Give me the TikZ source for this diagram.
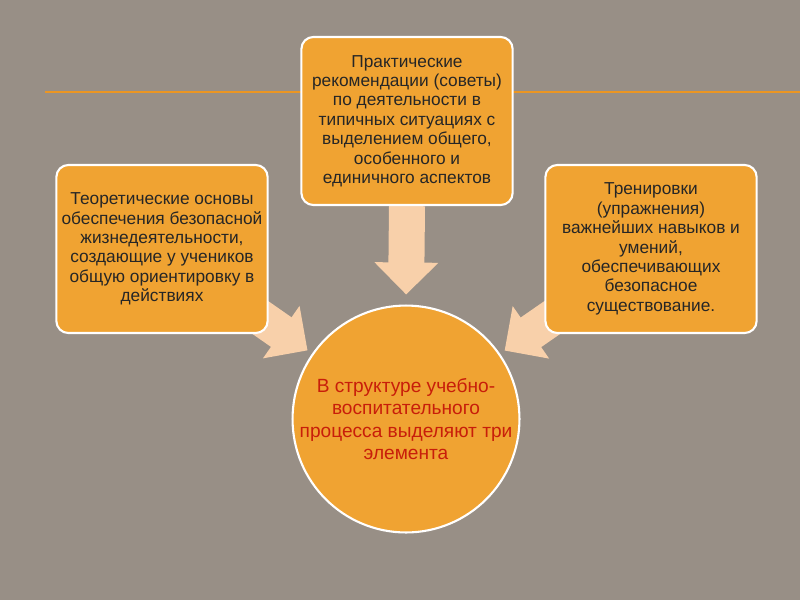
\documentclass[tikz,border=0pt]{standalone}
\usepackage{fontspec}
\setmainfont{Liberation Sans}
\usepackage{tikz}
\usetikzlibrary{arrows.meta,shapes}
\definecolor{slideback}{RGB}{152,143,134}
\definecolor{boxorange}{RGB}{240,163,50}
\definecolor{arrowpeach}{RGB}{248,208,170}
\definecolor{lineorange}{RGB}{235,150,35}
\definecolor{hubtext}{RGB}{200,30,10}
\pgfdeclarelayer{back}
\pgfsetlayers{back,main}

\begin{document}
\begin{tikzpicture}[x=0.025cm,y=-0.025cm,
  elem/.style={draw=white, line width=1.5pt, fill=boxorange, rounded corners=0.3cm,
    inner sep=0pt, minimum width=5.28cm, minimum height=4.2cm, align=center,
    text=black!85, font=\fontsize{12.3}{13.8}\selectfont},
  hub/.style={circle, draw=white, line width=1.5pt, fill=boxorange, inner sep=0pt,
    minimum size=5.55cm, align=center, text=hubtext, font=\fontsize{13.6}{15.8}\selectfont},
  feed/.style={draw=arrowpeach, line width=0.9cm, -{Triangle[length=0.8cm,width=1.55cm]}}]
\useasboundingbox (0,0) rectangle (800,600);

\node (core) at (406,419) [hub] {В структуре учебно-\\воспитательного\\процесса выделяют три\\элемента};
\node (theory) at (162,249) [elem] {Теоретические основы\\обеспечения безопасной\\жизнедеятельности,\\создающие у учеников\\общую ориентировку в\\действиях};
\node (practice) at (407,121) [elem] {Практические\\рекомендации (советы)\\по деятельности в\\типичных ситуациях с\\выделением общего,\\особенного и\\единичного аспектов};
\node (training) at (651,249) [elem] {Тренировки\\(упражнения)\\важнейших навыков и\\умений,\\обеспечивающих\\безопасное\\существование.};

\begin{pgfonlayer}{back}
\fill[slideback] (0,0) rectangle (800,600);
\draw[lineorange, line width=1.8pt] (45,92) -- (800,92);

%\draw[feed] (theory) -- (core);
\draw[feed, shorten >=3cm] (theory.center) -- (core.center);
\draw[feed, shorten >=0.25cm] (practice.south) -- (core.north);
\draw[feed, shorten >=3cm] (training.center) -- (core.center);
\end{pgfonlayer}
\end{tikzpicture}
\end{document}
